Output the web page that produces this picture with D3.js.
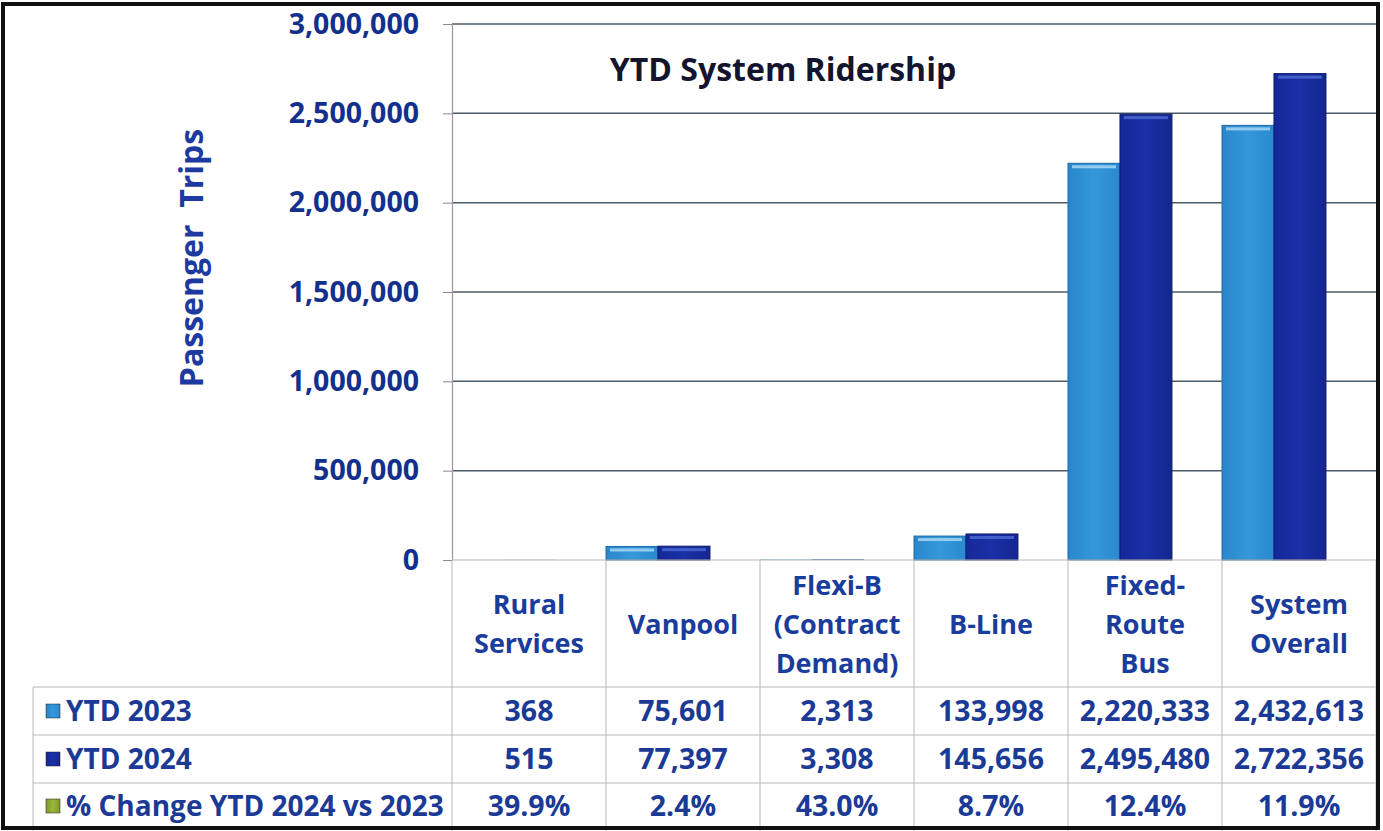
<!DOCTYPE html>
<html>
<head>
<meta charset="utf-8">
<script src="https://cdn.jsdelivr.net/npm/d3@7"></script>
<style>
  body { margin: 0; background: #fff; }
  svg text { font-family: "Open Sans", sans-serif; font-weight: bold; }
</style>
</head>
<body>
<svg id="chart"></svg>
<script>
const categories = [
  ["Rural", "Services"],
  ["Vanpool"],
  ["Flexi-B", "(Contract", "Demand)"],
  ["B-Line"],
  ["Fixed-", "Route", "Bus"],
  ["System", "Overall"]
]
const ytd2023 = [368, 75601, 2313, 133998, 2220333, 2432613]
const ytd2024 = [515, 77397, 3308, 145656, 2495480, 2722356]
const pctChange = [39.9, 2.4, 43.0, 8.7, 12.4, 11.9]
const yTicks = [0, 500000, 1000000, 1500000, 2000000, 2500000, 3000000]
const seriesNames = ["YTD 2023", "YTD 2024", "% Change YTD 2024 vs 2023"]

const width = 1383
const height = 831
const plotLeft = 452, plotRight = 1376, plotTop = 24, zero = 560
const rowLines = [687, 735, 783, 829]
const tableLeft = 33

const svg = d3.select('#chart').attr('width', width).attr('height', height)

const defs = svg.append('defs')
function grad(id, c1, c2, c3) {
  const g = defs.append('linearGradient').attr('id', id)
    .attr('x1', '0%').attr('x2', '100%').attr('y1', '0%').attr('y2', '0%')
  g.append('stop').attr('offset', '0%').attr('stop-color', c1)
  g.append('stop').attr('offset', '50%').attr('stop-color', c2)
  g.append('stop').attr('offset', '100%').attr('stop-color', c3)
}
grad('g23', '#2a86cc', '#3498da', '#2a88cf')
grad('g24', '#15289a', '#1b2fa6', '#14268f')
grad('gpct', '#7e9a28', '#9bb53c', '#7e9a28')

const x = d3.scaleBand().domain(d3.range(categories.length)).range([plotLeft, plotRight])
const inner = d3.scaleBand().domain([0, 1]).range([0, x.bandwidth() * 0.675])
const y = d3.scaleLinear().domain([0, 3000000]).range([zero, plotTop])

// gridlines
svg.append('g').selectAll('line').data(yTicks.filter(d => d > 0)).enter()
  .append('line')
  .attr('x1', plotLeft).attr('x2', plotRight)
  .attr('y1', d => y(d)).attr('y2', d => y(d))
  .attr('stroke', '#4d5b68').attr('stroke-width', 1.5)

// y axis
const yAxis = d3.axisLeft(y).tickValues(yTicks).tickSize(9).tickPadding(24)
  .tickFormat(d3.format(','))
const ya = svg.append('g').attr('transform', 'translate(' + plotLeft + ',0)').call(yAxis)
ya.select('.domain').attr('stroke', '#999').attr('stroke-width', 1.2)
ya.selectAll('.tick line').attr('stroke', '#888')
ya.selectAll('.tick text').attr('fill', '#13308c').style('font-size', '28.5px')
  .style('font-family', '"Open Sans", sans-serif').style('font-weight', 'bold')

// bars
const series = [ytd2023, ytd2024]
const fills = ['url(#g23)', 'url(#g24)']
const edges = ['#1d6aa8', '#0d1a6a']
const highs = ['#a6d6f4', '#4a68d0']
series.forEach((s, si) => {
  const g = svg.append('g')
  g.selectAll('rect.bar').data(s).enter().append('rect')
    .attr('class', 'bar')
    .attr('x', (d, i) => x(i) + inner(si))
    .attr('y', d => y(d))
    .attr('width', inner.bandwidth())
    .attr('height', d => zero - y(d))
    .attr('fill', fills[si])
    .attr('stroke', d => zero - y(d) > 2 ? edges[si] : 'none').attr('stroke-width', 1)
  g.selectAll('rect.hi').data(s).enter().append('rect')
    .attr('class', 'hi')
    .attr('x', (d, i) => x(i) + inner(si) + 4)
    .attr('y', d => y(d) + 2)
    .attr('width', inner.bandwidth() - 8)
    .attr('height', d => Math.min(3, Math.max(0, zero - y(d) - 3)))
    .attr('fill', highs[si]).attr('opacity', 0.85)
})

// table lines
const tl = svg.append('g').attr('stroke', '#b8b8b8').attr('stroke-width', 1)
tl.append('line').attr('x1', plotLeft).attr('x2', plotRight).attr('y1', zero).attr('y2', zero)
rowLines.slice(0, 3).forEach(r => {
  tl.append('line').attr('x1', tableLeft).attr('x2', plotRight).attr('y1', r).attr('y2', r)
})
tl.append('line').attr('x1', tableLeft).attr('x2', tableLeft).attr('y1', rowLines[0]).attr('y2', height)
d3.range(categories.length + 1).forEach(i => {
  const xx = i < categories.length ? x(i) : plotRight
  tl.append('line').attr('x1', xx).attr('x2', xx).attr('y1', zero).attr('y2', height)
})

// category labels
const lineH = 39
categories.forEach((lines, i) => {
  const cy = (zero + rowLines[0]) / 2
  const t = svg.append('text')
    .attr('x', x(i) + x.bandwidth() / 2)
    .attr('text-anchor', 'middle')
    .attr('fill', '#1a3c9c').style('font-size', '27px')
  lines.forEach((ln, k) => {
    t.append('tspan')
      .attr('x', x(i) + x.bandwidth() / 2)
      .attr('y', cy + (k - (lines.length - 1) / 2) * lineH + 10)
      .text(ln)
  })
})

// table rows
const rows = [
  ytd2023.map(d3.format(',')),
  ytd2024.map(d3.format(',')),
  pctChange.map(d => d.toFixed(1) + '%')
]
const markFill = ['url(#g23)', 'url(#g24)', 'url(#gpct)']
rows.forEach((vals, r) => {
  const cy = (rowLines[r] + rowLines[r + 1]) / 2
  svg.append('rect').attr('x', 46).attr('y', cy - 7).attr('width', 14).attr('height', 14)
    .attr('fill', markFill[r]).attr('stroke', '#222').attr('stroke-width', 0.5)
  svg.append('text').attr('x', 66).attr('y', cy + 10)
    .attr('fill', '#1a3a96').style('font-size', '28px').text(seriesNames[r])
  svg.append('g').selectAll('text').data(vals).enter().append('text')
    .attr('x', (d, i) => x(i) + x.bandwidth() / 2)
    .attr('y', cy + 10)
    .attr('text-anchor', 'middle')
    .attr('fill', '#1a3a96').style('font-size', '28.5px')
    .text(d => d)
})

// titles
svg.append('text').attr('x', 783).attr('y', 81).attr('text-anchor', 'middle')
  .attr('fill', '#14142e').style('font-size', '32px').text('YTD System Ridership')
svg.append('text')
  .attr('transform', 'translate(203,258) rotate(-90)')
  .attr('text-anchor', 'middle')
  .style('white-space', 'pre')
  .attr('fill', '#1c3aa0').style('font-size', '32px').text('Passenger  Trips')

// outer frame
svg.append('rect').attr('x', 3).attr('y', 4).attr('width', 1375).attr('height', 824)
  .attr('fill', 'none').attr('stroke', '#111').attr('stroke-width', 4)
</script>
</body>
</html>
